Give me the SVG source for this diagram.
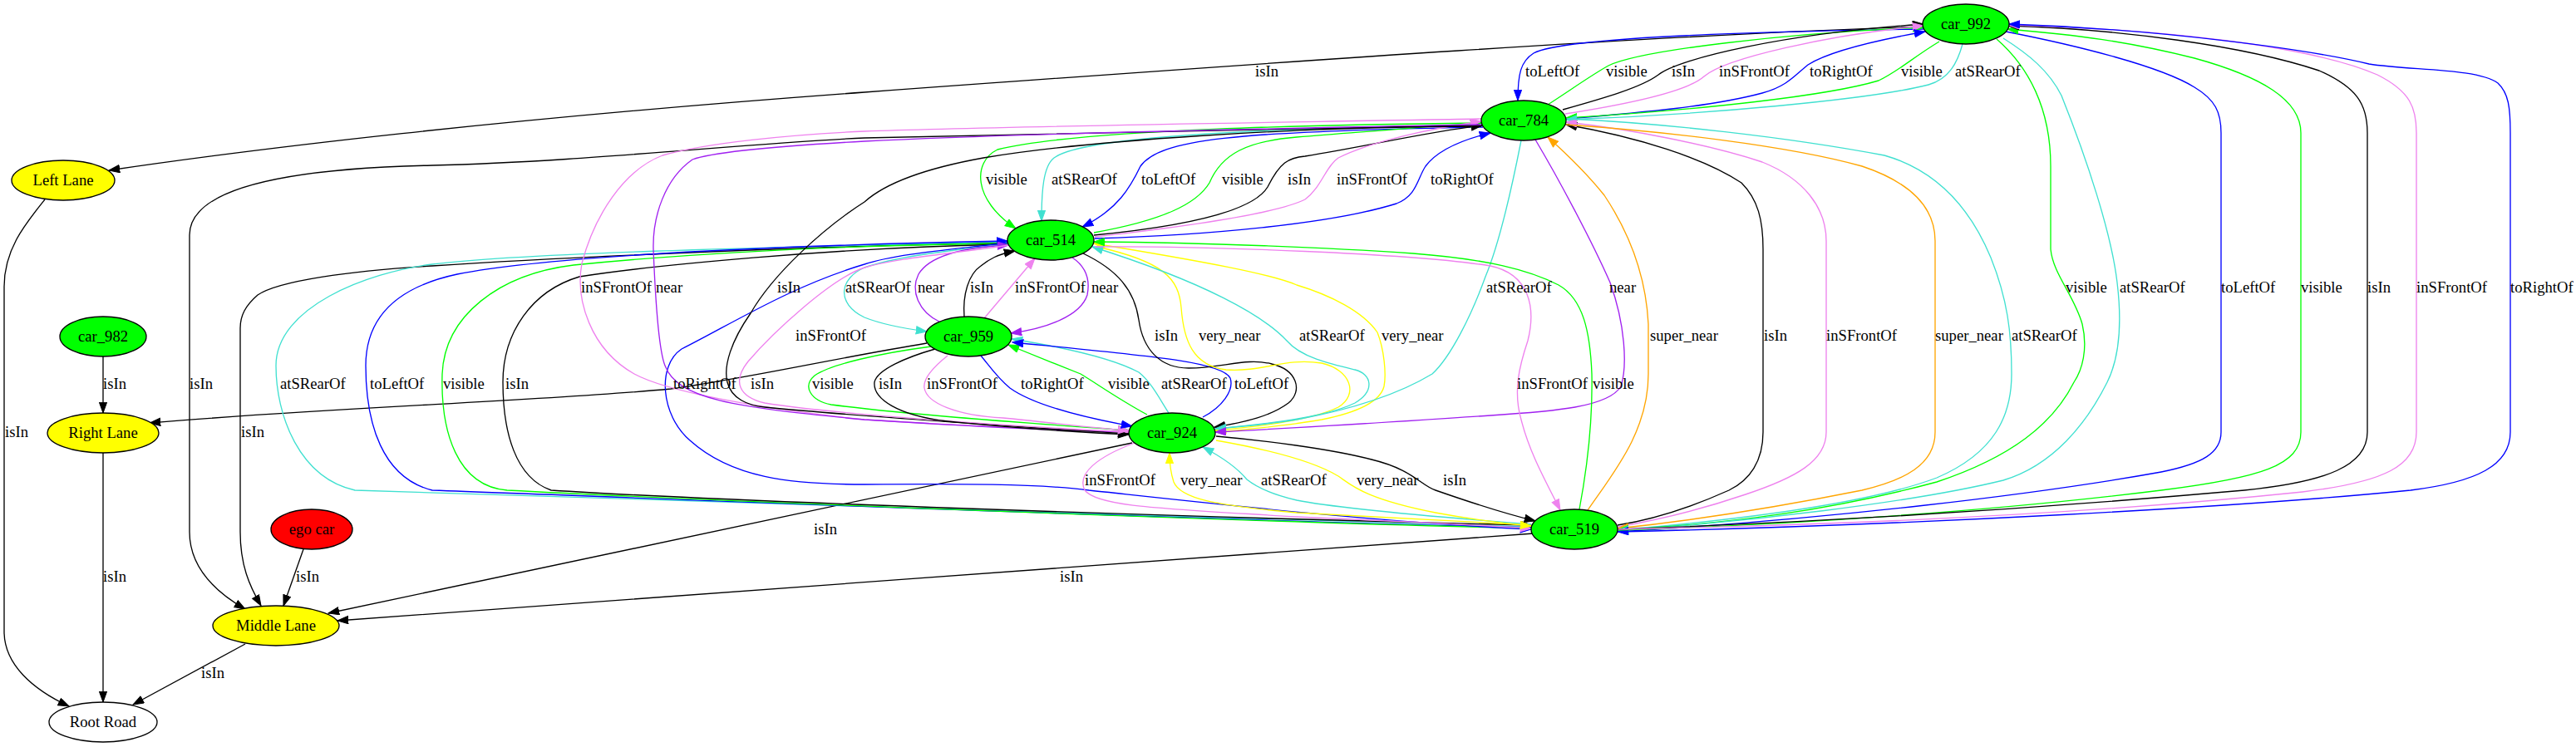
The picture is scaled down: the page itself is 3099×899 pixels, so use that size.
<svg xmlns="http://www.w3.org/2000/svg" width="3099" height="899" viewBox="0 0 3099 899">
<style>
.n{stroke:#000;stroke-width:1.33}
.nt{font-family:'Liberation Serif','Times New Roman',serif;font-size:18.67px;text-anchor:middle;fill:#000}
.l{font-family:'Liberation Serif','Times New Roman',serif;font-size:18.67px;fill:#000}
.e{fill:none;stroke-width:1.33}
.k{stroke:#000}.b{stroke:#0000ff}.g{stroke:#00ff00}.t{stroke:#40e0d0}.v{stroke:#ee82ee}.p{stroke:#a020f0}.y{stroke:#ffff00}.o{stroke:#ffa500}
</style>
<defs>
<marker id="mk" markerWidth="15" markerHeight="11" refX="13.3" refY="5" orient="auto-start-reverse" markerUnits="userSpaceOnUse"><path d="M0.5,0.4 L13.3,5 L0.5,9.6 z" fill="#000" stroke="#000" stroke-width="1"/></marker>
<marker id="mb" markerWidth="15" markerHeight="11" refX="13.3" refY="5" orient="auto-start-reverse" markerUnits="userSpaceOnUse"><path d="M0.5,0.4 L13.3,5 L0.5,9.6 z" fill="#0000ff" stroke="#0000ff" stroke-width="1"/></marker>
<marker id="mg" markerWidth="15" markerHeight="11" refX="13.3" refY="5" orient="auto-start-reverse" markerUnits="userSpaceOnUse"><path d="M0.5,0.4 L13.3,5 L0.5,9.6 z" fill="#00ff00" stroke="#00ff00" stroke-width="1"/></marker>
<marker id="mt" markerWidth="15" markerHeight="11" refX="13.3" refY="5" orient="auto-start-reverse" markerUnits="userSpaceOnUse"><path d="M0.5,0.4 L13.3,5 L0.5,9.6 z" fill="#40e0d0" stroke="#40e0d0" stroke-width="1"/></marker>
<marker id="mv" markerWidth="15" markerHeight="11" refX="13.3" refY="5" orient="auto-start-reverse" markerUnits="userSpaceOnUse"><path d="M0.5,0.4 L13.3,5 L0.5,9.6 z" fill="#ee82ee" stroke="#ee82ee" stroke-width="1"/></marker>
<marker id="mp" markerWidth="15" markerHeight="11" refX="13.3" refY="5" orient="auto-start-reverse" markerUnits="userSpaceOnUse"><path d="M0.5,0.4 L13.3,5 L0.5,9.6 z" fill="#a020f0" stroke="#a020f0" stroke-width="1"/></marker>
<marker id="my" markerWidth="15" markerHeight="11" refX="13.3" refY="5" orient="auto-start-reverse" markerUnits="userSpaceOnUse"><path d="M0.5,0.4 L13.3,5 L0.5,9.6 z" fill="#ffff00" stroke="#ffff00" stroke-width="1"/></marker>
<marker id="mo" markerWidth="15" markerHeight="11" refX="13.3" refY="5" orient="auto-start-reverse" markerUnits="userSpaceOnUse"><path d="M0.5,0.4 L13.3,5 L0.5,9.6 z" fill="#ffa500" stroke="#ffa500" stroke-width="1"/></marker>
</defs>
<rect x="0" y="0" width="3099" height="899" fill="#fff"/>
<g id="edges">
<path class="e k" marker-end="url(#mk)" d="M2314,32 C2000,42 1560,73 1040,111 C600,143 300,180 131,205"/>
<path class="e b" marker-end="url(#mb)" d="M2314,35 C2100,38 1880,45 1845,64 C1829,74 1826,90 1826,121"/>
<path class="e g" marker-end="url(#mg)" d="M1862,126 C1890,108 1915,90 1935,79 C1975,60 2150,40 2314,33"/>
<path class="e k" marker-end="url(#mk)" d="M1880,132 C1930,118 1975,105 1995,90 C2020,70 2150,40 2314,29"/>
<path class="e v" marker-end="url(#mv)" d="M1883,137 C1960,125 2030,110 2050,92 C2075,70 2200,42 2314,31"/>
<path class="e b" marker-end="url(#mb)" d="M1884,143 C1980,135 2060,128 2120,112 C2150,104 2160,90 2175,78 C2200,62 2260,48 2316,38"/>
<path class="e g" marker-end="url(#mg)" d="M2333,50 C2300,70 2285,85 2260,97 C2200,115 2050,132 1884,142"/>
<path class="e t" marker-end="url(#mt)" d="M2361,53 C2355,75 2345,95 2320,102 C2250,120 2050,138 1884,144"/>
<path class="e g" marker-end="url(#mg)" d="M1782,148 C1600,150 1300,155 1200,180 C1170,195 1170,240 1222,275"/>
<path class="e t" marker-end="url(#mt)" d="M1783,150 C1500,155 1300,165 1268,190 C1255,200 1253,230 1253,266"/>
<path class="e b" marker-end="url(#mb)" d="M1784,153 C1480,158 1395,168 1372,200 C1360,225 1345,252 1302,273"/>
<path class="e g" marker-end="url(#mg)" d="M1316,280 C1400,265 1440,245 1455,220 C1470,185 1500,170 1560,165 C1650,158 1720,152 1782,148"/>
<path class="e k" marker-end="url(#mk)" d="M1316,283 C1450,270 1510,250 1525,225 C1540,195 1550,190 1570,188 C1650,175 1720,158 1783,151"/>
<path class="e v" marker-end="url(#mv)" d="M1317,285 C1450,270 1540,255 1570,240 C1590,225 1595,200 1610,190 C1650,170 1720,155 1782,146"/>
<path class="e b" marker-end="url(#mb)" d="M1317,287 C1450,283 1600,270 1680,245 C1705,235 1705,215 1715,200 C1730,180 1760,168 1793,160"/>
<path class="e k" marker-end="url(#mk)" d="M1782,151 C1500,155 1200,162 1040,166 C900,172 700,195 520,199 C330,203 228,230 228,283 L228,640 C228,680 255,710 295,733"/>
<path class="e k" marker-end="url(#mk)" d="M1212,292 C1000,296 700,308 520,320 C420,326 335,338 310,355 C295,368 289,380 289,395 L289,640 C289,680 300,705 314,729"/>
<path class="e k" marker-end="url(#mk)" d="M54,240 C30,270 5,300 5,345 L5,760 C5,800 40,830 83,850"/>
<path class="e k" marker-end="url(#mk)" d="M124,429 L124,497"/>
<path class="e k" marker-end="url(#mk)" d="M124,545 L124,845"/>
<path class="e k" marker-end="url(#mk)" d="M365,661 L341,729"/>
<path class="e k" marker-end="url(#mk)" d="M295,775 L160,848"/>
<path class="e k" marker-end="url(#mk)" d="M1115,413 C1000,432 900,455 807,468 C650,483 400,490 180,509"/>
<path class="e k" marker-end="url(#mk)" d="M1362,533 L395,738"/>
<path class="e k" marker-end="url(#mk)" d="M1845,642 C1500,665 800,720 406,747"/>
<path class="e t" marker-end="url(#mt)" d="M1842,634 C1400,620 600,598 427,590 C360,575 332,500 332,440 C332,370 440,328 520,318 C620,305 900,298 1212,291"/>
<path class="e b" marker-end="url(#mb)" d="M1842,635 C1400,625 800,600 520,590 C460,575 440,510 440,440 C440,380 480,345 550,330 C650,310 900,296 1212,290"/>
<path class="e g" marker-end="url(#mg)" d="M1212,293 C950,296 780,310 690,319 C600,330 535,380 532,450 C530,520 550,585 610,590 C800,600 1400,625 1842,636"/>
<path class="e k" marker-end="url(#mk)" d="M1212,294 C1000,298 780,320 697,333 C640,350 605,400 605,460 C605,520 620,575 663,590 C850,602 1400,622 1842,632"/>
<path class="e b" marker-end="url(#mb)" d="M1213,292 C1150,300 1080,305 1040,318 C950,345 880,390 820,420 C790,440 795,500 830,530 C880,575 950,583 1040,583 C1150,582 1250,582 1310,590 C1450,605 1650,628 1842,637"/>
<path class="e t" marker-end="url(#mt)" d="M1213,294 C1150,300 1080,308 1040,322 C1010,335 1005,365 1040,382 C1060,390 1085,395 1115,399"/>
<path class="e p" marker-end="url(#mp)" d="M1130,387 C1105,375 1095,350 1105,330 C1120,305 1170,297 1213,295"/>
<path class="e k" marker-end="url(#mk)" d="M1160,381 C1158,355 1165,330 1180,320 C1190,312 1200,306 1221,302"/>
<path class="e v" marker-end="url(#mv)" d="M1184,383 L1245,311"/>
<path class="e p" marker-end="url(#mp)" d="M1290,310 C1305,320 1312,335 1308,355 C1300,380 1260,395 1216,401"/>
<path class="e g" marker-end="url(#mg)" d="M1380,499 C1345,480 1320,462 1300,450 C1270,438 1245,428 1213,415"/>
<path class="e t" marker-end="url(#mt)" d="M1406,497 C1395,480 1385,460 1370,448 C1340,432 1280,418 1217,408"/>
<path class="e b" marker-end="url(#mb)" d="M1447,502 C1470,490 1485,470 1480,455 C1470,435 1380,428 1218,412"/>
<path class="e g" marker-end="url(#mg)" d="M1120,417 C1060,425 1000,438 980,452 C965,465 975,482 1000,487 C1100,500 1250,510 1358,518"/>
<path class="e v" marker-end="url(#mv)" d="M1782,143 C1500,148 1200,152 1040,158 C950,162 850,172 797,187 C750,205 715,260 700,317 C692,360 710,420 763,450 C800,470 900,490 1040,505 C1150,512 1250,517 1358,519"/>
<path class="e p" marker-end="url(#mp)" d="M1782,150 C1500,155 1200,162 1040,170 C950,175 860,182 833,192 C800,215 785,260 786,300 C788,350 792,420 800,440 C815,480 880,490 1040,505 C1150,512 1250,518 1358,520"/>
<path class="e k" marker-end="url(#mk)" d="M1782,152 C1560,152 1300,170 1183,190 C1100,205 1060,225 1040,243 C990,275 930,330 903,377 C880,410 870,440 875,460 C880,480 900,488 920,490 C1000,498 1200,512 1358,522"/>
<path class="e v" marker-end="url(#mv)" d="M1213,295 C1150,305 1080,310 1040,322 C1000,335 930,400 900,435 C880,460 890,478 920,485 C1000,498 1200,512 1358,520"/>
<path class="e k" marker-end="url(#mk)" d="M1125,420 C1090,430 1055,445 1052,460 C1050,480 1080,500 1140,507 C1220,515 1290,520 1358,523"/>
<path class="e v" marker-end="url(#mv)" d="M1140,428 C1125,440 1110,455 1112,467 C1115,485 1150,500 1207,503 C1260,508 1310,515 1358,518"/>
<path class="e b" marker-end="url(#mb)" d="M1180,428 C1190,440 1200,455 1215,467 C1240,485 1290,500 1362,513"/>
<path class="e k" marker-end="url(#mk)" d="M1303,305 C1345,325 1365,350 1370,385 C1375,420 1395,443 1430,443 C1470,443 1500,430 1530,438 C1560,445 1568,470 1550,485 C1530,500 1500,508 1461,514"/>
<path class="e y" marker-end="url(#my)" d="M1320,297 C1400,315 1418,335 1421,370 C1424,410 1435,440 1475,445 C1520,448 1545,430 1590,437 C1625,445 1635,475 1610,490 C1580,505 1520,513 1462,518"/>
<path class="e y" marker-end="url(#my)" d="M1466,520 C1510,516 1550,512 1590,505 C1630,497 1660,485 1665,465 C1668,450 1665,420 1657,400 C1640,375 1600,355 1560,343 C1530,330 1450,315 1316,293"/>
<path class="e t" marker-end="url(#mt)" d="M1462,516 C1530,510 1600,500 1630,485 C1655,470 1650,450 1630,445 C1600,438 1565,430 1548,410 C1520,380 1450,340 1314,297"/>
<path class="e t" marker-end="url(#mt)" d="M1830,169 C1820,220 1805,290 1787,333 C1770,380 1745,430 1723,450 C1690,470 1640,490 1560,505 C1530,510 1500,513 1462,516"/>
<path class="e p" marker-end="url(#mp)" d="M1847,168 C1875,215 1915,290 1937,340 C1955,390 1958,440 1950,465 C1935,490 1870,495 1793,500 C1700,506 1600,513 1462,520"/>
<path class="e v" marker-end="url(#mv)" d="M1317,297 C1450,296 1700,305 1793,320 C1840,330 1848,370 1838,410 C1828,440 1820,470 1830,505 C1840,545 1860,580 1877,614"/>
<path class="e g" marker-end="url(#mg)" d="M1900,613 C1910,560 1916,500 1915,450 C1913,400 1905,360 1875,343 C1840,325 1790,312 1700,305 C1600,298 1450,292 1316,291"/>
<path class="e o" marker-end="url(#mo)" d="M1910,614 C1940,570 1983,520 1983,450 L1983,390 C1980,330 1960,280 1930,235 C1910,210 1890,190 1862,165"/>
<path class="e v" marker-end="url(#mv)" d="M1365,533 C1320,550 1295,570 1305,590 C1320,610 1400,612 1560,622 C1700,628 1780,632 1842,636"/>
<path class="e y" marker-end="url(#my)" d="M1842,632 C1700,625 1600,620 1560,617 C1460,608 1420,600 1412,580 C1408,568 1407,558 1407,545"/>
<path class="e t" marker-end="url(#mt)" d="M1842,631 C1700,620 1600,610 1560,602 C1530,595 1510,585 1500,577 C1490,565 1470,550 1447,538"/>
<path class="e y" marker-end="url(#my)" d="M1463,530 C1520,540 1580,555 1610,573 C1625,583 1640,600 1727,617 C1770,625 1810,630 1842,633"/>
<path class="e k" marker-end="url(#mk)" d="M1463,525 C1520,530 1600,540 1650,553 C1700,565 1710,585 1727,590 C1770,605 1810,618 1847,627"/>
<path class="e k" marker-end="url(#mk)" d="M1946,632 C1990,625 2040,608 2080,590 C2105,578 2121,555 2121,520 L2121,300 C2121,265 2115,240 2095,220 C2050,190 1970,165 1884,150"/>
<path class="e v" marker-end="url(#mv)" d="M1946,634 C2000,625 2050,612 2100,595 C2160,575 2197,555 2197,520 L2197,290 C2197,250 2170,215 2120,195 C2060,175 1960,155 1884,147"/>
<path class="e o" marker-end="url(#mo)" d="M1884,150 C2000,158 2150,175 2240,200 C2300,220 2328,250 2328,290 L2328,520 C2328,560 2290,578 2240,590 C2150,608 2050,625 1946,636"/>
<path class="e t" marker-end="url(#mt)" d="M1884,143 C2000,148 2150,165 2267,187 C2330,205 2370,250 2395,310 C2415,360 2420,400 2420,450 C2420,500 2400,545 2330,575 C2250,605 2100,625 1946,638"/>
<path class="e g" marker-end="url(#mg)" d="M2402,47 C2440,80 2467,130 2467,200 L2467,300 C2470,330 2495,355 2505,390 C2512,420 2505,445 2495,460 C2470,510 2420,550 2330,580 C2200,615 2080,630 1946,638"/>
<path class="e t" marker-end="url(#mt)" d="M2410,46 C2440,65 2465,85 2480,115 C2510,190 2540,280 2547,340 C2553,390 2550,430 2535,460 C2510,510 2470,560 2410,578 C2300,605 2100,628 1946,639"/>
<path class="e b" marker-end="url(#mb)" d="M2413,38 C2500,55 2600,80 2640,105 C2665,120 2672,135 2672,160 L2672,520 C2672,545 2650,558 2600,568 C2450,595 2200,625 1946,640"/>
<path class="e g" marker-end="url(#mg)" d="M1946,638 C2150,632 2400,615 2600,590 C2720,575 2768,560 2768,520 L2768,160 C2768,120 2720,92 2640,70 C2560,50 2500,42 2415,35"/>
<path class="e k" marker-end="url(#mk)" d="M1946,637 C2200,628 2450,612 2700,590 C2800,580 2848,560 2848,520 L2848,160 C2848,125 2835,105 2790,85 C2700,55 2550,35 2416,31"/>
<path class="e v" marker-end="url(#mv)" d="M1946,637 C2200,632 2500,620 2770,592 C2870,580 2907,560 2907,520 L2907,160 C2907,130 2900,110 2860,90 C2780,55 2600,35 2416,30"/>
<path class="e b" marker-end="url(#mb)" d="M1946,640 C2300,632 2700,610 2900,590 C2980,580 3020,560 3020,520 L3020,160 C3020,130 3018,112 3005,100 C2980,82 2900,85 2850,77 C2780,60 2600,35 2417,29"/>
</g>
<g id="labels">
<text class="l" x="1510" y="92">isIn</text>
<text class="l" x="1835" y="92">toLeftOf</text>
<text class="l" x="1932" y="92">visible</text>
<text class="l" x="2011" y="92">isIn</text>
<text class="l" x="2068" y="92">inSFrontOf</text>
<text class="l" x="2177" y="92">toRightOf</text>
<text class="l" x="2287" y="92">visible</text>
<text class="l" x="2352" y="92">atSRearOf</text>
<text class="l" x="1186" y="222">visible</text>
<text class="l" x="1265" y="222">atSRearOf</text>
<text class="l" x="1373" y="222">toLeftOf</text>
<text class="l" x="1470" y="222">visible</text>
<text class="l" x="1549" y="222">isIn</text>
<text class="l" x="1608" y="222">inSFrontOf</text>
<text class="l" x="1721" y="222">toRightOf</text>
<text class="l" x="699" y="352">inSFrontOf</text>
<text class="l" x="789" y="352">near</text>
<text class="l" x="935" y="352">isIn</text>
<text class="l" x="1017" y="352">atSRearOf</text>
<text class="l" x="1104" y="352">near</text>
<text class="l" x="1167" y="352">isIn</text>
<text class="l" x="1221" y="352">inSFrontOf</text>
<text class="l" x="1313" y="352">near</text>
<text class="l" x="1788" y="352">atSRearOf</text>
<text class="l" x="1936" y="352">near</text>
<text class="l" x="2485" y="352">visible</text>
<text class="l" x="2550" y="352">atSRearOf</text>
<text class="l" x="2672" y="352">toLeftOf</text>
<text class="l" x="2768" y="352">visible</text>
<text class="l" x="2848" y="352">isIn</text>
<text class="l" x="2907" y="352">inSFrontOf</text>
<text class="l" x="3020" y="352">toRightOf</text>
<text class="l" x="957" y="410">inSFrontOf</text>
<text class="l" x="1389" y="410">isIn</text>
<text class="l" x="1442" y="410">very_near</text>
<text class="l" x="1563" y="410">atSRearOf</text>
<text class="l" x="1662" y="410">very_near</text>
<text class="l" x="1985" y="410">super_near</text>
<text class="l" x="2122" y="410">isIn</text>
<text class="l" x="2197" y="410">inSFrontOf</text>
<text class="l" x="2328" y="410">super_near</text>
<text class="l" x="2420" y="410">atSRearOf</text>
<text class="l" x="124" y="468">isIn</text>
<text class="l" x="228" y="468">isIn</text>
<text class="l" x="337" y="468">atSRearOf</text>
<text class="l" x="445" y="468">toLeftOf</text>
<text class="l" x="533" y="468">visible</text>
<text class="l" x="608" y="468">isIn</text>
<text class="l" x="810" y="468">toRightOf</text>
<text class="l" x="903" y="468">isIn</text>
<text class="l" x="977" y="468">visible</text>
<text class="l" x="1057" y="468">isIn</text>
<text class="l" x="1115" y="468">inSFrontOf</text>
<text class="l" x="1228" y="468">toRightOf</text>
<text class="l" x="1333" y="468">visible</text>
<text class="l" x="1397" y="468">atSRearOf</text>
<text class="l" x="1485" y="468">toLeftOf</text>
<text class="l" x="1825" y="468">inSFrontOf</text>
<text class="l" x="1916" y="468">visible</text>
<text class="l" x="6" y="526">isIn</text>
<text class="l" x="290" y="526">isIn</text>
<text class="l" x="1305" y="584">inSFrontOf</text>
<text class="l" x="1420" y="584">very_near</text>
<text class="l" x="1517" y="584">atSRearOf</text>
<text class="l" x="1632" y="584">very_near</text>
<text class="l" x="1736" y="584">isIn</text>
<text class="l" x="979" y="643">isIn</text>
<text class="l" x="124" y="700">isIn</text>
<text class="l" x="356" y="700">isIn</text>
<text class="l" x="1275" y="700">isIn</text>
<text class="l" x="242" y="816">isIn</text>
</g>
<g id="car_992"><ellipse class="n" cx="2365" cy="29" rx="52" ry="24" fill="#00ff00"/><text class="nt" x="2365" y="35">car_992</text></g>
<g id="car_784"><ellipse class="n" cx="1833" cy="145" rx="51" ry="24" fill="#00ff00"/><text class="nt" x="1833" y="151">car_784</text></g>
<g id="left_lane"><ellipse class="n" cx="76" cy="217" rx="62" ry="24" fill="#ffff00"/><text class="nt" x="76" y="223">Left Lane</text></g>
<g id="car_514"><ellipse class="n" cx="1264" cy="289" rx="52" ry="24" fill="#00ff00"/><text class="nt" x="1264" y="295">car_514</text></g>
<g id="car_959"><ellipse class="n" cx="1165" cy="405" rx="52" ry="24" fill="#00ff00"/><text class="nt" x="1165" y="411">car_959</text></g>
<g id="car_982"><ellipse class="n" cx="124" cy="405" rx="52" ry="24" fill="#00ff00"/><text class="nt" x="124" y="411">car_982</text></g>
<g id="right_lane"><ellipse class="n" cx="124" cy="521" rx="67" ry="24" fill="#ffff00"/><text class="nt" x="124" y="527">Right Lane</text></g>
<g id="car_924"><ellipse class="n" cx="1410" cy="521" rx="52" ry="24" fill="#00ff00"/><text class="nt" x="1410" y="527">car_924</text></g>
<g id="car_519"><ellipse class="n" cx="1894" cy="637" rx="52" ry="24" fill="#00ff00"/><text class="nt" x="1894" y="643">car_519</text></g>
<g id="ego_car"><ellipse class="n" cx="375" cy="637" rx="49" ry="24" fill="#ff0000"/><text class="nt" x="375" y="643">ego car</text></g>
<g id="middle_lane"><ellipse class="n" cx="332" cy="753" rx="76" ry="24" fill="#ffff00"/><text class="nt" x="332" y="759">Middle Lane</text></g>
<g id="root_road"><ellipse class="n" cx="124" cy="869" rx="65" ry="24" fill="none"/><text class="nt" x="124" y="875">Root Road</text></g>
</svg>
